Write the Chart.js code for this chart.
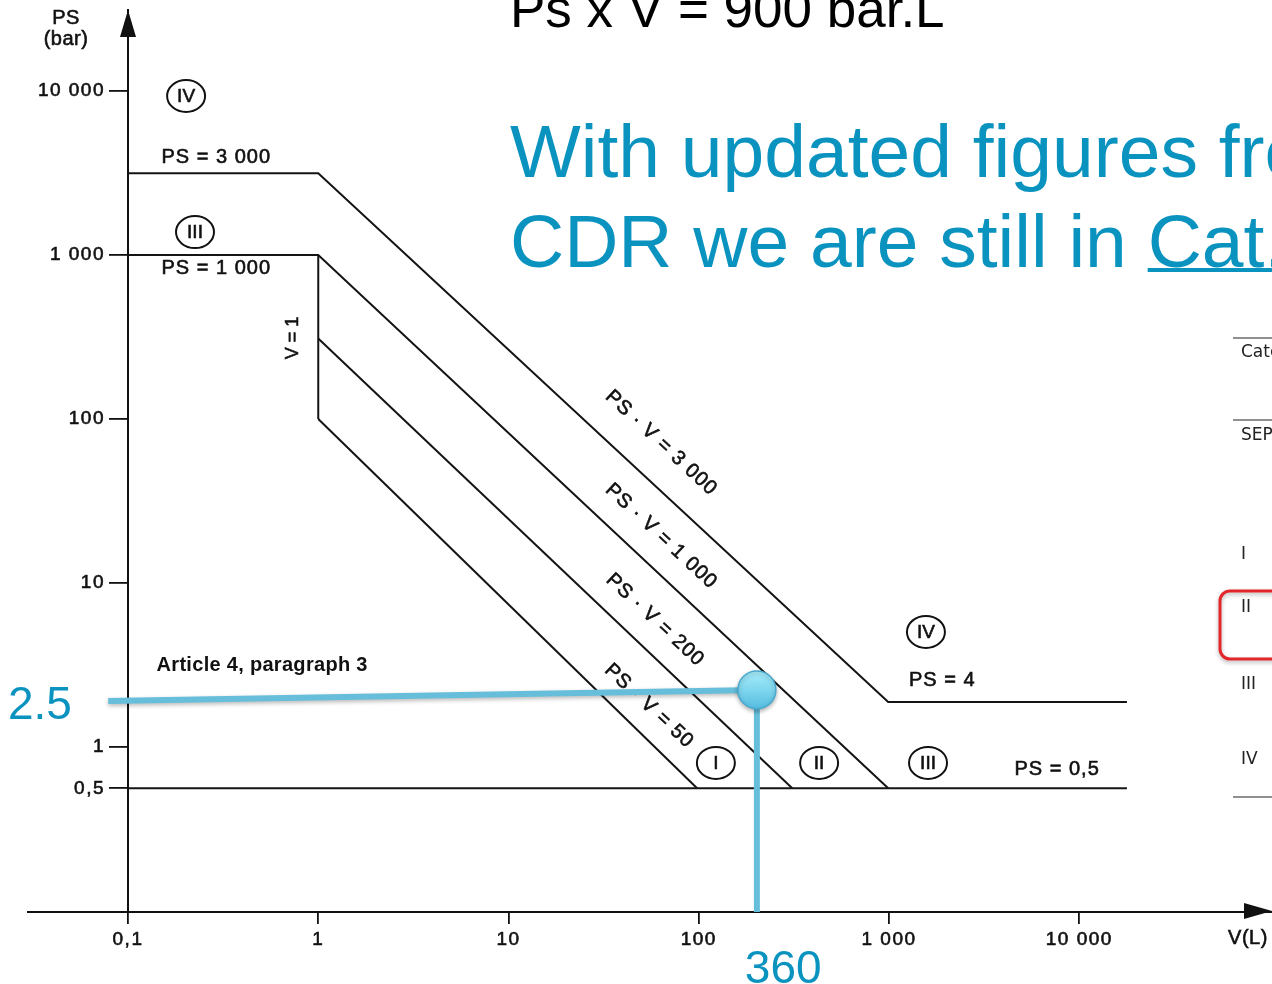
<!DOCTYPE html>
<html>
<head>
<meta charset="utf-8">
<script src="https://cdn.jsdelivr.net/npm/chart.js@4.4.1/dist/chart.umd.min.js"></script>
<style>
  html, body { margin: 0; padding: 0; background: #fff; }
  #wrap { width: 1272px; height: 984px; position: relative; }
</style>
</head>
<body>
<div id="wrap"><canvas id="chart"></canvas></div>
<script>
// axis ticks
const volumeTicks = [0.1, 1, 10, 100, 1000, 10000];
const volumeLabels = ['0,1', '1', '10', '100', '1 000', '10 000'];
const pressureTicks = [0.56, 1, 10, 100, 1000, 10000];
const pressureLabels = ['0,5', '1', '10', '100', '1 000', '10 000'];

// category boundaries as drawn (V in L, PS in bar)
const lineIV_V = [0.1, 1, 990, 17800];
const lineIV_PS = [3150, 3150, 1.88, 1.88];
const lineIII_V = [0.1, 1, 990];
const lineIII_PS = [1000, 1000, 0.56];
const lineV1_V = [1, 1];
const lineV1_PS = [1000, 100];
const lineII_V = [1, 310];
const lineII_PS = [310, 0.56];
const lineI_V = [1, 98];
const lineI_PS = [100, 0.56];
const lineBase_V = [0.1, 17800];
const lineBase_PS = [0.56, 0.56];

// highlighted vessel
const markLine_V = [0.0787, 202];
const markLine_PS = [1.91, 2.23];
const markPoint_V = [202];
const markPoint_PS = [2.23];

const X_MIN = 0.1, X_MAX = 103000;
const Y_MIN = 0.0986, Y_MAX = 31200;

const markDrop_V = [202, 202];
const markDrop_PS = [2.23, Y_MIN];

const FONT = '"Liberation Sans", Arial, Helvetica, sans-serif';
const TEAL = '#0b93c0';
const HILITE = '#66bedb';

// annotations placed in data space
const badges = [
  { text: 'IV', v: 0.202, ps: 9330 },
  { text: 'III', v: 0.225, ps: 1380 },
  { text: 'IV', v: 1563, ps: 5.03 },
  { text: 'I', v: 123, ps: 0.8 },
  { text: 'II', v: 429, ps: 0.8 },
  { text: 'III', v: 1603, ps: 0.8 }
];
const notes = [
  { text: 'PS = 3 000', v: 0.291, ps: 3960, rot: 0 },
  { text: 'PS = 1 000', v: 0.291, ps: 833, rot: 0 },
  { text: 'PS = 4', v: 1905, ps: 2.53, rot: 0 },
  { text: 'PS = 0,5', v: 7650, ps: 0.734, rot: 0 },
  { text: 'Article 4, paragraph 3', v: 0.507, ps: 3.12, rot: 0, bold: true },
  { text: 'PS · V = 3 000', v: 63.5, ps: 71.4, rot: 43 },
  { text: 'PS · V = 1 000', v: 63.5, ps: 19.3, rot: 43 },
  { text: 'PS · V = 200', v: 59.0, ps: 5.95, rot: 43 },
  { text: 'PS · V = 50', v: 54.8, ps: 1.78, rot: 43 },
  { text: 'V = 1', v: 0.738, ps: 312, rot: -90, tight: true }
];

function pairs(vs, ps) {
  return vs.map((v, i) => ({ x: v, y: ps[i] }));
}

const boundary = { showLine: true, borderColor: '#141414', borderWidth: 2, pointRadius: 0, clip: false };

const datasets = [
  {
    data: pairs(markPoint_V, markPoint_PS), showLine: false, clip: false, shadow: true,
    pointRadius: 19, pointBorderWidth: 1.5, pointBorderColor: '#4aa9cf',
    pointBackgroundColor: (c) => {
      const ch = c.chart;
      if (!ch.chartArea) return '#86d8f0';
      const y = ch.scales.y.getPixelForValue(markPoint_PS[0]);
      const g = ch.ctx.createLinearGradient(0, y - 19, 0, y + 19);
      g.addColorStop(0, '#a8eefc');
      g.addColorStop(1, '#55bde0');
      return g;
    }
  },
  { data: pairs(markLine_V, markLine_PS), showLine: true, borderColor: HILITE, borderWidth: 6, pointRadius: 0, clip: false, shadow: true },
  { data: pairs(markDrop_V, markDrop_PS), showLine: true, borderColor: HILITE, borderWidth: 6, pointRadius: 0, clip: false },
  { ...boundary, data: pairs(lineIV_V, lineIV_PS) },
  { ...boundary, data: pairs(lineIII_V, lineIII_PS) },
  { ...boundary, data: pairs(lineV1_V, lineV1_PS) },
  { ...boundary, data: pairs(lineII_V, lineII_PS) },
  { ...boundary, data: pairs(lineI_V, lineI_PS) },
  { ...boundary, data: pairs(lineBase_V, lineBase_PS) }
];

// scanned print looks heavier, so fill + thin stroke
function inkText(ctx, text, x, y) {
  ctx.fillText(text, x, y);
  ctx.strokeText(text, x, y);
}

function drawBadge(ctx, x, y, text) {
  ctx.beginPath();
  ctx.ellipse(x, y, 19, 16, 0, 0, Math.PI * 2);
  ctx.lineWidth = 2;
  ctx.strokeStyle = '#111';
  ctx.stroke();
  ctx.fillStyle = '#111';
  ctx.font = '19px ' + FONT;
  ctx.textAlign = 'center';
  ctx.textBaseline = 'middle';
  ctx.lineWidth = 0.6;
  inkText(ctx, text, x, y + 1);
}

const sketchPlugin = {
  id: 'sketch',
  beforeDraw(chart) {
    chart.ctx.letterSpacing = '1.5px';
  },
  beforeDatasetsDraw(chart) {
    const { ctx, scales: { x, y } } = chart;
    ctx.save();
    ctx.letterSpacing = '0px';
    // x axis runs past the y axis to the left
    ctx.strokeStyle = '#111';
    ctx.lineWidth = 2;
    ctx.beginPath();
    ctx.moveTo(27, y.bottom);
    ctx.lineTo(x.left, y.bottom);
    ctx.stroke();

    badges.forEach(b => drawBadge(ctx, x.getPixelForValue(b.v), y.getPixelForValue(b.ps), b.text));

    ctx.fillStyle = '#111';
    ctx.strokeStyle = '#111';
    ctx.lineWidth = 0.6;
    ctx.textAlign = 'center';
    ctx.textBaseline = 'middle';
    notes.forEach(n => {
      ctx.save();
      ctx.translate(x.getPixelForValue(n.v), y.getPixelForValue(n.ps));
      ctx.rotate(n.rot * Math.PI / 180);
      ctx.letterSpacing = n.tight ? '0px' : (n.bold ? '0.3px' : '1px');
      ctx.font = (n.bold ? 'bold ' : '') + (n.tight ? '18px ' : '20px ') + FONT;
      if (n.bold) ctx.fillText(n.text, 0, 0);
      else inkText(ctx, n.text, 0, 0);
      ctx.restore();
    });

    // axis names
    ctx.letterSpacing = '0.5px';
    ctx.font = '20px ' + FONT;
    inkText(ctx, 'PS', 66, 18);
    inkText(ctx, '(bar)', 66, 39);
    inkText(ctx, 'V(L)', 1248, 938);
    ctx.restore();
  },
  beforeDatasetDraw(chart, args) {
    if (chart.data.datasets[args.index].shadow) {
      const ctx = chart.ctx;
      ctx.save();
      ctx.shadowColor = 'rgba(0,0,0,0.28)';
      ctx.shadowBlur = 4;
      ctx.shadowOffsetY = 2;
    }
  },
  afterDatasetDraw(chart, args) {
    if (chart.data.datasets[args.index].shadow) chart.ctx.restore();
  },
  afterDraw(chart) {
    const { ctx, scales: { x, y } } = chart;
    ctx.save();
    ctx.letterSpacing = '0px';
    // arrow heads
    ctx.fillStyle = '#111';
    const ax = x.left;
    ctx.beginPath();
    ctx.moveTo(ax, y.top);
    ctx.lineTo(ax - 8, y.top + 27);
    ctx.lineTo(ax + 8, y.top + 27);
    ctx.closePath();
    ctx.fill();
    ctx.beginPath();
    ctx.moveTo(x.right, y.bottom - 1);
    ctx.lineTo(x.right - 28, y.bottom - 9);
    ctx.lineTo(x.right - 28, y.bottom + 7);
    ctx.closePath();
    ctx.fill();

    // highlighted values
    ctx.fillStyle = TEAL;
    ctx.font = '46px ' + FONT;
    ctx.textAlign = 'left';
    ctx.textBaseline = 'alphabetic';
    ctx.fillText('2.5', 8, y.getPixelForValue(markLine_PS[0]) + 18);
    ctx.fillText('360', x.getPixelForValue(markPoint_V[0]) - 12, 983);

    // slide text
    ctx.fillStyle = '#000';
    ctx.font = '53px ' + FONT;
    ctx.fillText('Ps x V = 900 bar.L', 510, 27);

    ctx.fillStyle = TEAL;
    ctx.font = '75px ' + FONT;
    ctx.fillText('With updated figures from', 510, 177);
    const lead = 'CDR we are still in ';
    ctx.fillText(lead + 'Cat. II', 510, 267);
    const ux = 510 + ctx.measureText(lead).width;
    ctx.fillRect(ux, 268, 1272 - ux, 4);

    // cut-off table on the right
    ctx.strokeStyle = '#222';
    ctx.lineWidth = 1.2;
    [338, 420, 797].forEach(ly => {
      ctx.beginPath();
      ctx.moveTo(1233, ly);
      ctx.lineTo(1272, ly);
      ctx.stroke();
    });
    ctx.fillStyle = '#222';
    ctx.font = '17px "DejaVu Sans", sans-serif';
    ctx.textBaseline = 'middle';
    [['Category', 353], ['SEP', 436], ['I', 555], ['II', 608], ['III', 685], ['IV', 760]].forEach(([t, ty]) => {
      ctx.fillText(t, 1241, ty);
    });
    ctx.shadowColor = 'rgba(0,0,0,0.3)';
    ctx.shadowBlur = 4;
    ctx.shadowOffsetY = 2;
    ctx.strokeStyle = '#e3262a';
    ctx.lineWidth = 3;
    ctx.beginPath();
    ctx.roundRect(1220, 591, 90, 68, 10);
    ctx.stroke();
    ctx.restore();
  }
};

const tickFont = { family: FONT, size: 19 };

new Chart(document.getElementById('chart'), {
  type: 'scatter',
  data: { datasets },
  options: {
    responsive: true,
    maintainAspectRatio: false,
    animation: false,
    events: [],
    layout: { padding: { top: 10, left: 0, right: 0, bottom: 0 }, autoPadding: false },
    plugins: { legend: { display: false }, tooltip: { enabled: false } },
    scales: {
      x: {
        type: 'logarithmic',
        min: X_MIN,
        max: X_MAX,
        afterFit: s => { s.height = 72; s.paddingLeft = 0; s.paddingRight = 0; },
        afterBuildTicks: s => { s.ticks = volumeTicks.map(v => ({ value: v })); },
        border: { display: true, color: '#111', width: 2 },
        grid: { drawOnChartArea: false, color: '#111', lineWidth: 1.8, tickLength: 12 },
        ticks: {
          autoSkip: false, maxRotation: 0, padding: 4, color: '#111', font: tickFont,
          textStrokeColor: '#111', textStrokeWidth: 0.6,
          callback: v => volumeLabels[volumeTicks.indexOf(v)]
        }
      },
      y: {
        type: 'logarithmic',
        min: Y_MIN,
        max: Y_MAX,
        afterFit: s => { s.width = 128; s.paddingTop = 0; s.paddingBottom = 0; },
        afterBuildTicks: s => { s.ticks = pressureTicks.map(v => ({ value: v })); },
        border: { display: true, color: '#111', width: 2 },
        grid: { drawOnChartArea: false, color: '#111', lineWidth: 1.8, tickLength: 19 },
        ticks: {
          autoSkip: false, padding: 4, color: '#111', font: tickFont,
          textStrokeColor: '#111', textStrokeWidth: 0.6,
          callback: v => pressureLabels[pressureTicks.indexOf(v)]
        }
      }
    }
  },
  plugins: [sketchPlugin]
});
</script>
</body>
</html>
